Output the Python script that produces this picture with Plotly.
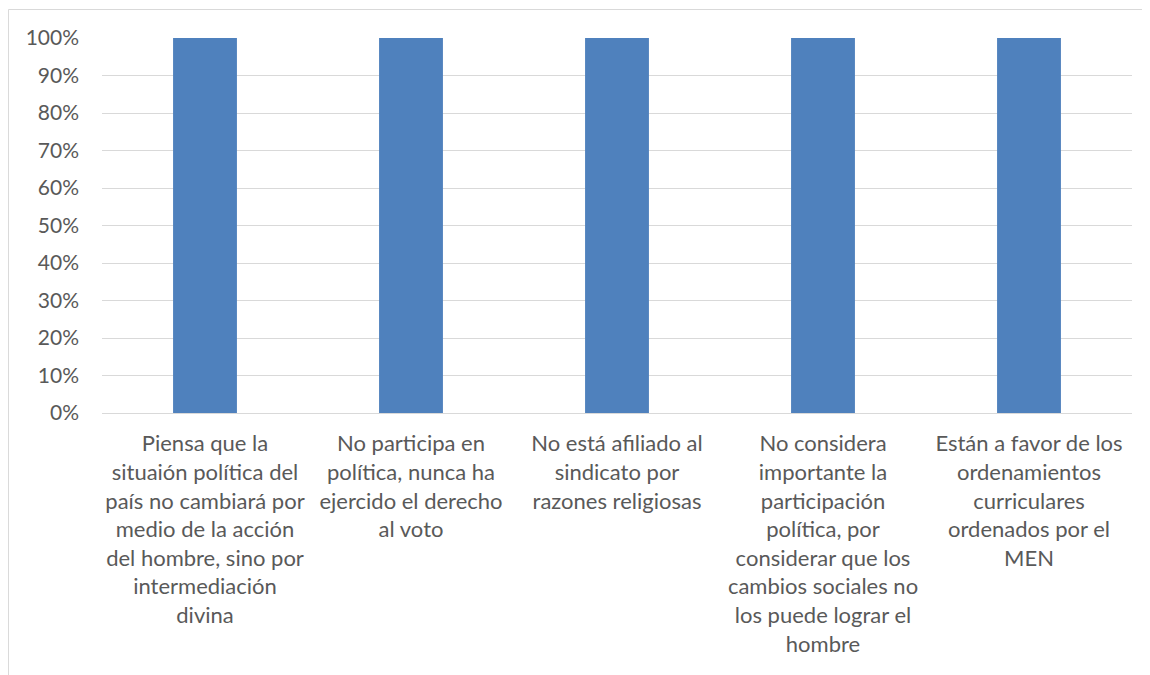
import plotly.graph_objects as go

# categories (line breaks as in the original labels)
categorias = [
    "Piensa que la<br>situaión política del<br>país no cambiará por<br>medio de la acción<br>del hombre, sino por<br>intermediación<br>divina",
    "No participa en<br>política, nunca ha<br>ejercido el derecho<br>al voto",
    "No está afiliado al<br>sindicato por<br>razones religiosas",
    "No considera<br>importante la<br>participación<br>política, por<br>considerar que los<br>cambios sociales no<br>los puede lograr el<br>hombre",
    "Están a favor de los<br>ordenamientos<br>curriculares<br>ordenados por el<br>MEN",
]
porcentajes = [1.0, 1.0, 1.0, 1.0, 1.0]

y_ticks = [0, 0.1, 0.2, 0.3, 0.4, 0.5, 0.6, 0.7, 0.8, 0.9, 1.0]

fuente = "Lato, Carlito, Calibri, sans-serif"
gris = "#595959"

fig = go.Figure()

fig.add_trace(go.Bar(
    x=categorias,
    y=porcentajes,
    marker=dict(color="#4f81bd", line=dict(width=0)),
    hoverinfo="skip",
))

# marco del gráfico
fig.add_shape(
    type="rect", xref="paper", yref="paper",
    x0=-0.0908, x1=1.05, y0=-0.8, y1=1.076,
    line=dict(color="#d9d9d9", width=1),
    fillcolor="rgba(0,0,0,0)",
    layer="below",
)

fig.update_layout(
    width=1150,
    height=675,
    margin=dict(l=94, r=26, t=30, b=270),
    paper_bgcolor="white",
    plot_bgcolor="white",
    bargap=0.69,
    showlegend=False,
    font=dict(family=fuente, size=22, color=gris),
)

fig.update_xaxes(
    showgrid=False,
    showline=True,
    linecolor="#d9d9d9",
    linewidth=1,
    ticks="",
    tickangle=0,
    ticklabelstandoff=11,
    tickfont=dict(family=fuente, size=22, color=gris),
)

fig.update_yaxes(
    range=[0, 1.0],
    tickvals=y_ticks,
    tickformat=".0%",
    showgrid=True,
    gridcolor="#d9d9d9",
    gridwidth=1,
    zeroline=False,
    showline=False,
    ticks="",
    ticklabelstandoff=22,
    tickfont=dict(family=fuente, size=21, color=gris),
)

fig.write_html("out.html")
